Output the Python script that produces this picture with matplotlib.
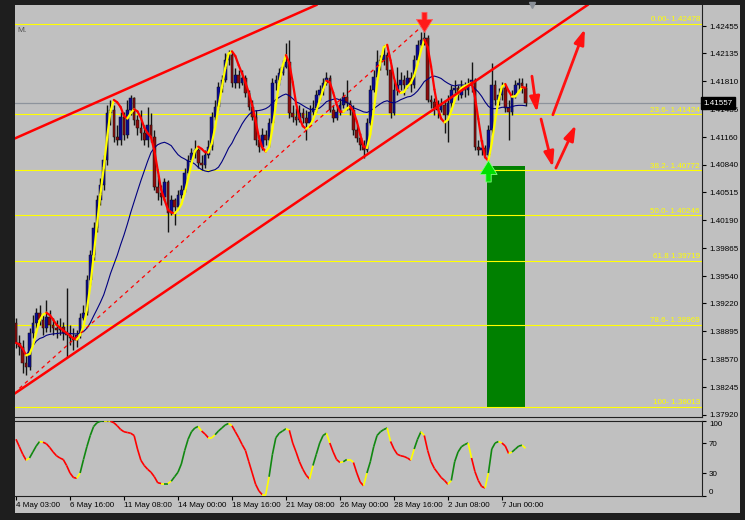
import numpy as np
import pandas as pd
import matplotlib
matplotlib.use('Agg')
import matplotlib.pyplot as plt
import matplotlib.transforms as mtransforms
from matplotlib.collections import LineCollection
from matplotlib.patches import Rectangle
from matplotlib.path import Path

plt.rcParams['font.family'] = ['Liberation Sans', 'DejaVu Sans']

# H4 candles, 4 May - 7 Jun (bar index 0 = 4 May 03:00)
first_open = 1.3899
close = [
    1.3876, 1.3871, 1.3853, 1.3848, 1.3888, 1.3899, 1.3911, 1.3903, 1.3893, 1.3906,
    1.3897, 1.3893, 1.3891, 1.3895, 1.3888, 1.3885, 1.3882, 1.3879, 1.3885, 1.3905,
    1.3911, 1.3949, 1.3978, 1.4010, 1.4043, 1.4060, 1.4089, 1.4144, 1.4148, 1.4116,
    1.4113, 1.4139, 1.4118, 1.4148, 1.4162, 1.4136, 1.4127, 1.4121, 1.4113, 1.4130,
    1.4116, 1.4058, 1.4051, 1.4046, 1.4064, 1.4027, 1.4043, 1.4034, 1.4048, 1.4054,
    1.4074, 1.4089, 1.4097, 1.4101, 1.4086, 1.4083, 1.4095, 1.4104, 1.4139, 1.4151,
    1.4174, 1.4183, 1.4206, 1.4212, 1.4179, 1.4188, 1.4179, 1.4185, 1.4167, 1.4151,
    1.4139, 1.4113, 1.4104, 1.4118, 1.4113, 1.4132, 1.4179, 1.4183, 1.4191, 1.4198,
    1.4204, 1.4144, 1.4139, 1.4136, 1.4144, 1.4138, 1.4132, 1.4145, 1.4150, 1.4165,
    1.4171, 1.4179, 1.4185, 1.4148, 1.4138, 1.4145, 1.4153, 1.4163, 1.4156, 1.4148,
    1.4124, 1.4115, 1.4107, 1.4101, 1.4132, 1.4171, 1.4186, 1.4204, 1.4206, 1.4212,
    1.4194, 1.4144, 1.4171, 1.4177, 1.4183, 1.4177, 1.4185, 1.4177, 1.4206, 1.4223,
    1.4229, 1.4231, 1.4159, 1.4157, 1.4150, 1.4148, 1.4153, 1.4142, 1.4156, 1.4171,
    1.4173, 1.4165, 1.4174, 1.4171, 1.4177, 1.4183, 1.4104, 1.4101, 1.4103, 1.4095,
    1.4124, 1.4177, 1.4159, 1.4165, 1.4173, 1.4150, 1.4145, 1.4165, 1.4177, 1.4179,
    1.4173, 1.41557,
]
high = [
    1.3905, 1.3885, 1.3879, 1.3862, 1.3893, 1.3909, 1.3917, 1.3920, 1.3909, 1.3926,
    1.3914, 1.3905, 1.3903, 1.3905, 1.3900, 1.3940, 1.3897, 1.3893, 1.3891, 1.3911,
    1.3920, 1.3955, 1.3984, 1.4017, 1.4048, 1.4068, 1.4095, 1.4153, 1.4159, 1.4153,
    1.4130, 1.4145, 1.4145, 1.4159, 1.4165, 1.4163, 1.4142, 1.4148, 1.4130, 1.4151,
    1.4144, 1.4124, 1.4072, 1.4060, 1.4068, 1.4066, 1.4048, 1.4045, 1.4054, 1.4060,
    1.4080, 1.4095, 1.4103, 1.4113, 1.4103, 1.4095, 1.4101, 1.4113, 1.4145, 1.4159,
    1.4180, 1.4188, 1.4214, 1.4218, 1.4215, 1.4197, 1.4194, 1.4194, 1.4188, 1.4171,
    1.4159, 1.4148, 1.4118, 1.4127, 1.4124, 1.4138, 1.4185, 1.4188, 1.4197, 1.4206,
    1.4226, 1.4229, 1.4153, 1.4150, 1.4153, 1.4150, 1.4148, 1.4153, 1.4159, 1.4171,
    1.4177, 1.4185, 1.4192, 1.4188, 1.4153, 1.4153, 1.4162, 1.4169, 1.4183, 1.4159,
    1.4153, 1.4130, 1.4121, 1.4113, 1.4138, 1.4177, 1.4194, 1.4218, 1.4212, 1.4223,
    1.4215, 1.4200, 1.4183, 1.4198, 1.4192, 1.4188, 1.4194, 1.4192, 1.4212, 1.4229,
    1.4238, 1.42478, 1.4235, 1.4165, 1.4162, 1.4159, 1.4162, 1.4159, 1.4165, 1.4177,
    1.4183, 1.4177, 1.4183, 1.4180, 1.4185, 1.4204, 1.4185, 1.4113, 1.4113, 1.4107,
    1.4130, 1.4202, 1.4183, 1.4173, 1.4180, 1.4177, 1.4159, 1.4171, 1.4183, 1.4185,
    1.4185, 1.4179,
]
low = [
    1.3870, 1.3862, 1.3841, 1.3839, 1.3844, 1.3882, 1.3893, 1.3897, 1.3885, 1.3889,
    1.3889, 1.3885, 1.3882, 1.3885, 1.3879, 1.3860, 1.3874, 1.3868, 1.3871, 1.3882,
    1.3903, 1.3909, 1.3944, 1.3973, 1.4005, 1.4037, 1.4054, 1.4083, 1.4130, 1.4110,
    1.4107, 1.4107, 1.4113, 1.4115, 1.4142, 1.4130, 1.4118, 1.4113, 1.4107, 1.4104,
    1.4110, 1.4054, 1.4043, 1.4037, 1.4043, 1.4005, 1.4025, 1.4013, 1.4031, 1.4045,
    1.4052, 1.4072, 1.4086, 1.4092, 1.4080, 1.4078, 1.4080, 1.4092, 1.4101, 1.4136,
    1.4148, 1.4169, 1.4180, 1.4200, 1.4174, 1.4173, 1.4173, 1.4177, 1.4163, 1.4148,
    1.4136, 1.4107, 1.4099, 1.4101, 1.4107, 1.4104, 1.4130, 1.4171, 1.4177, 1.4188,
    1.4197, 1.4138, 1.4134, 1.4130, 1.4134, 1.4132, 1.4113, 1.4130, 1.4142, 1.4145,
    1.4159, 1.4165, 1.4177, 1.4145, 1.4134, 1.4136, 1.4142, 1.4150, 1.4148, 1.4142,
    1.4118, 1.4110, 1.4101, 1.4092, 1.4099, 1.4130, 1.4169, 1.4183, 1.4194, 1.4200,
    1.4188, 1.4138, 1.4142, 1.4165, 1.4171, 1.4165, 1.4173, 1.4169, 1.4173, 1.4204,
    1.4220, 1.4223, 1.4157, 1.4150, 1.4142, 1.4138, 1.4145, 1.4121, 1.4110, 1.4150,
    1.4165, 1.4159, 1.4162, 1.4163, 1.4165, 1.4169, 1.4101, 1.4095, 1.4095, 1.4092,
    1.4089, 1.4118, 1.4153, 1.4153, 1.4159, 1.4145, 1.4113, 1.4142, 1.4162, 1.4171,
    1.4167, 1.4152,
]
stoch = [
    75, 65, 55, 47, 50, 58, 66, 72, 71, 69,
    64, 58, 53, 50, 48, 40, 30, 24, 23, 30,
    48, 65, 80, 92, 97, 99, 100, 100, 99, 97,
    93, 88, 85, 84, 83, 80, 62, 47, 40, 35,
    31, 25, 17, 16, 16, 16, 19, 25, 31, 42,
    60, 75, 85, 90, 92, 86, 82, 77, 77, 81,
    86, 90, 94, 96, 93, 85, 77, 68, 60, 45,
    30, 15, 6, 1, 1, 25, 55, 77, 83, 86,
    89, 87, 70, 58, 45, 35, 27, 22, 40, 55,
    70, 80, 83, 70, 58, 48, 44, 45, 48, 48,
    44, 30, 18, 13, 30, 45, 65, 80, 85, 88,
    90, 72, 62, 55, 53, 52, 50, 47, 62, 75,
    85, 80, 60, 45, 36, 30, 24, 20, 15, 20,
    45, 58, 65, 68, 70, 50, 32, 20, 12, 10,
    30, 62, 70, 72, 70, 66, 56, 58, 62, 66,
    67, 63,
]

date_bars = [0, 16, 32, 48, 64, 80, 96, 112, 128, 144]
date_labels = ['4 May 03:00', '6 May 16:00', '11 May 08:00', '14 May 00:00', '18 May 16:00',
               '21 May 08:00', '26 May 00:00', '28 May 16:00', '2 Jun 08:00', '7 Jun 00:00']
price_ticks = [1.42455, 1.42135, 1.41810, 1.41485, 1.41160, 1.40840, 1.40515, 1.40190,
               1.39865, 1.39540, 1.39220, 1.38895, 1.38570, 1.38245, 1.37920]
fib_prices = [1.42478, 1.41424, 1.40772, 1.40246, 1.39719, 1.38969, 1.38013]
fib_labels = ['0.00- 1.42478', '23.6- 1.41424', '38.2- 1.40772', '50.0- 1.40246',
              '61.8 1.39719', '78.6- 1.38969', '100- 1.38013']
stoch_ticks = [0, 30, 70, 100]

# drawn objects as (bar, price)
upper_channel = [(0, 1.4115), (89, 1.4270)]
lower_channel = [(0, 1.3818), (169, 1.4269)]
fib_trend = [(1, 1.3823), (121, 1.42478)]
box_bars = (139.6, 150.8)
box_prices = (1.38013, 1.4082)
sell_bar, buy_bar = 121, 140
red_arrows = [
    ((152.9, 1.4187), (154.4, 1.4145)),
    ((159.1, 1.4142), (168.6, 1.4242)),
    ((155.6, 1.4137), (159.1, 1.4081)),
    ((160.0, 1.4080), (165.9, 1.4130)),
]

close = np.array(close)
high = np.array(high)
low = np.array(low)
stoch = np.array(stoch, dtype=float)
n = len(close)
bars = np.arange(n)
opens = np.r_[first_open, close[:-1]]


def wma(x, period):
    out = np.empty(len(x))
    w_full = np.arange(1, period + 1)
    for i in range(len(x)):
        seg = x[max(0, i - period + 1):i + 1]
        w = w_full[-len(seg):]
        out[i] = np.dot(seg, w) / w.sum()
    return out


def hma(x, period):
    raw = 2 * wma(x, period // 2) - wma(x, period)
    return wma(raw, int(np.sqrt(period)))


def slope_segments(y, up, down, turn=None):
    pts = np.column_stack([np.arange(len(y)), y])
    segs = np.stack([pts[:-1], pts[1:]], axis=1)
    d = np.diff(y)
    cols = []
    for i, v in enumerate(d):
        c = up if v >= 0 else down
        if turn is not None and i > 0 and np.sign(v) != np.sign(d[i - 1]):
            c = turn
        cols.append(c)
    return segs, cols


fast = hma(close, 10)
slow = pd.Series(close).rolling(20, min_periods=1).mean().values

fig = plt.figure(figsize=(7.45, 5.2), dpi=100, facecolor='#1e1e1e')
fig.patches.append(Rectangle((15 / 745, 7 / 520), 725 / 745, 508 / 520,
                             transform=fig.transFigure, facecolor='#c0c0c0',
                             edgecolor='none', zorder=-10))

ax = fig.add_axes([15 / 745, 103 / 520, 687 / 745, 412 / 520])
ax2 = fig.add_axes([15 / 745, 24.5 / 520, 687 / 745, 75 / 520])
for a in (ax, ax2):
    a.set_facecolor('#c0c0c0')
    a.set_xlim(-0.3, 203.3)
    a.spines['left'].set_visible(False)
    for s in ('top', 'bottom', 'right'):
        a.spines[s].set_color('#202020')
        a.spines[s].set_linewidth(0.8)
ax.spines['top'].set_visible(False)
ax.set_ylim(1.37896, 1.42700)
ax2.set_ylim(0, 100)

# fibonacci levels and box
ax.add_patch(Rectangle((box_bars[0], box_prices[0]), box_bars[1] - box_bars[0],
                       box_prices[1] - box_prices[0], facecolor='#008000',
                       edgecolor='none', zorder=1))
blend = mtransforms.blended_transform_factory(ax.transAxes, ax.transData)
for p, lab in zip(fib_prices, fib_labels):
    ax.axhline(p, color='#ffff00', lw=0.8, zorder=2)
    ax.text(0.997, p + 0.00008, lab, transform=blend, ha='right', va='bottom',
            color='#ffff00', fontsize=5.8, zorder=2)
ax.axhline(close[-1], color='#8d939c', lw=0.9, zorder=2)

# candles
ax.vlines(bars, low, high, color='#141414', lw=1.0, zorder=3)
body_h = np.maximum(np.abs(close - opens), 0.00003)
ax.bar(bars, body_h, bottom=np.minimum(opens, close), width=0.78,
       color=np.where(close >= opens, '#0a0a96', '#8e0c0c'),
       edgecolor='#101010', linewidth=0.35, zorder=4)

# moving averages
ax.plot(bars, slow, color='#000080', lw=0.8, zorder=5)
segs, cols = slope_segments(fast, '#ffff00', '#ff0000')
ax.add_collection(LineCollection(segs, colors=cols, linewidths=1.6, zorder=6,
                                 capstyle='round'))

# trend lines
ax.axline(upper_channel[0], upper_channel[1], color='#ff0000', lw=1.8, zorder=7)
ax.axline(lower_channel[0], lower_channel[1], color='#ff0000', lw=1.8, zorder=7)
ax.plot([fib_trend[0][0], fib_trend[1][0]], [fib_trend[0][1], fib_trend[1][1]],
        color='#ff0000', lw=0.9, dashes=(3, 3), zorder=7)

for start, end in red_arrows:
    ax.annotate('', xy=end, xytext=start,
                arrowprops=dict(arrowstyle='-|>,head_length=0.9,head_width=0.3',
                                color='#ff1010', lw=2, mutation_scale=10,
                                shrinkA=0, shrinkB=0), zorder=8)

down = Path([(-0.125, 1), (0.125, 1), (0.125, 0.65), (0.4, 0.65), (0, 0),
             (-0.4, 0.65), (-0.125, 0.65), (-0.125, 1)], closed=True)
up = Path([(-0.125, -1), (0.125, -1), (0.125, -0.65), (0.4, -0.65), (0, 0),
           (-0.4, -0.65), (-0.125, -0.65), (-0.125, -1)], closed=True)
shift_down = mtransforms.offset_copy(ax.transData, fig=fig, y=-8, units='dots')
ax.plot([sell_bar], [high[sell_bar]], marker=down, ms=29, color='#ff1a1a',
        mec='#ff5a5a', mew=0.6, transform=shift_down, zorder=9, clip_on=False)
ax.plot([buy_bar], [low[buy_bar]], marker=up, ms=31, color='#00e000',
        mec='#80ff80', mew=0.6, zorder=9)
ax.plot([n + 1], [ax.get_ylim()[1]], marker='v', ms=5, color='#8a9098',
        clip_on=False, zorder=9)

ax.set_xticks([])
ax.yaxis.set_ticks_position('right')
ax.set_yticks(price_ticks)
ax.set_yticklabels([f'{p:.5f}' for p in price_ticks])
ax.tick_params(axis='y', length=3, width=0.8, pad=2, labelsize=5.8, colors='black')
ax.text(1.0015, close[-1], f'{close[-1]:.5f}', transform=blend, ha='left', va='center',
        color='white', fontsize=5.8, clip_on=False, zorder=10,
        bbox=dict(boxstyle='square,pad=0.3', fc='black', ec='black'))
fig.text(17 / 745, 1 - 31 / 520, 'M.', fontsize=6, color='#505050', va='center')

# stochastic panel
segs, cols = slope_segments(stoch, '#118811', '#ff0000', '#ffff00')
ax2.add_collection(LineCollection(segs, colors=cols, linewidths=1.2, zorder=3))
ax2.yaxis.set_ticks_position('right')
ax2.set_yticks(stoch_ticks)
ax2.set_yticklabels([str(t) for t in stoch_ticks])
for lbl in ax2.get_yticklabels():
    if lbl.get_text() == '100':
        lbl.set_va('top')
    elif lbl.get_text() == '0':
        lbl.set_va('bottom')
ax2.tick_params(axis='y', length=3, width=0.8, pad=2, labelsize=5.8, colors='black')
ax2.set_xticks(date_bars)
ax2.set_xticklabels(date_labels)
for lbl in ax2.get_xticklabels():
    lbl.set_ha('left')
ax2.tick_params(axis='x', length=3, width=0.8, pad=2, labelsize=5.8, colors='black')

fig.savefig('out.png', dpi=100, facecolor=fig.get_facecolor())
